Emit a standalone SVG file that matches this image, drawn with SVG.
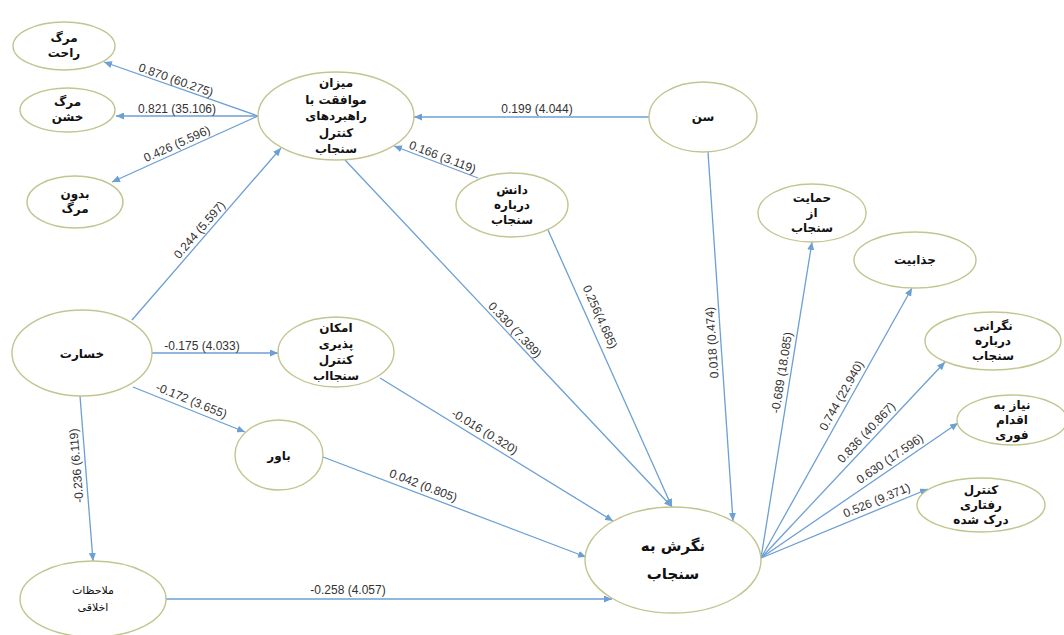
<svg xmlns="http://www.w3.org/2000/svg" width="1064" height="635" viewBox="0 0 1064 635">
<style>
.n ellipse{fill:#fff;stroke:#c3c590;stroke-width:1.4}
.n text{font-family:"DejaVu Sans","Noto Sans",sans-serif;font-weight:bold;font-size:12px;fill:#111;text-anchor:middle;dominant-baseline:central}
.e line{stroke:#6c9fd3;stroke-width:1.3;fill:none;marker-end:url(#ah)}
.l text{font-family:"Liberation Sans",Arial,sans-serif;font-size:12px;fill:#333;text-anchor:middle;dominant-baseline:central}
</style>
<defs>
<marker id="ah" markerUnits="userSpaceOnUse" markerWidth="9" markerHeight="7" refX="8" refY="3.5" orient="auto">
<path d="M0,0 L8,3.5 L0,7 z" fill="#6c9fd3"/>
</marker>
</defs>
<rect width="1064" height="635" fill="#fff"/>
<g id="connectors" class="e">
<line x1="258" y1="116" x2="104" y2="62"/>
<line x1="258" y1="116" x2="116" y2="116"/>
<line x1="258" y1="116" x2="112" y2="182"/>
<line x1="132" y1="320" x2="281" y2="148"/>
<line x1="649" y1="117" x2="414" y2="117"/>
<line x1="478" y1="178" x2="394" y2="146"/>
<line x1="345" y1="160" x2="672" y2="507"/>
<line x1="548" y1="230" x2="672" y2="507"/>
<line x1="708" y1="152" x2="733" y2="521"/>
<line x1="761" y1="558" x2="812" y2="242"/>
<line x1="761" y1="558" x2="912" y2="288"/>
<line x1="761" y1="558" x2="945" y2="362"/>
<line x1="761" y1="558" x2="958" y2="423"/>
<line x1="761" y1="558" x2="928" y2="489"/>
<line x1="152" y1="353" x2="278" y2="353"/>
<line x1="133" y1="387" x2="245" y2="432"/>
<line x1="380" y1="378" x2="613" y2="521"/>
<line x1="323" y1="457" x2="586" y2="557"/>
<line x1="166" y1="599" x2="612" y2="599"/>
<line x1="80" y1="396" x2="93" y2="561"/>
</g>
<g id="labels" class="l">
<text transform="translate(176,80) rotate(19.3)">0.870 (60.275)</text>
<text x="177" y="109">0.821 (35.106)</text>
<text transform="translate(177,144) rotate(-24.3)">0.426 (5.596)</text>
<text transform="translate(199.5,229.8) rotate(-49.1)">0.244 (5.597)</text>
<text x="537" y="109">0.199 (4.044)</text>
<text transform="translate(442.5,157) rotate(20.9)">0.166 (3.119)</text>
<text transform="translate(515,330) rotate(46.7)">0.330 (7.389)</text>
<text transform="translate(600,317) rotate(65.9)">0.256(4.685)</text>
<text transform="translate(712,342.6) rotate(-93.9)">0.018 (0.474)</text>
<text transform="translate(781.8,372.6) rotate(-80.8)">-0.689 (18.085)</text>
<text transform="translate(841.5,395.6) rotate(-60.8)">0.744 (22.940)</text>
<text transform="translate(866.4,432.5) rotate(-46.8)">0.836 (40.867)</text>
<text transform="translate(889.9,458.8) rotate(-34.4)">0.630 (17.596)</text>
<text transform="translate(876.6,500.5) rotate(-22.5)">0.526 (9.371)</text>
<text x="202" y="346">-0.175 (4.033)</text>
<text transform="translate(191.4,400.7) rotate(21.9)">-0.172 (3.655)</text>
<text transform="translate(484.7,431.7) rotate(31.5)">-0.016 (0.320)</text>
<text transform="translate(423.2,485.5) rotate(20.8)">0.042 (0.805)</text>
<text x="348" y="590">-0.258 (4.057)</text>
<text transform="translate(76.4,465.7) rotate(-94.5)">-0.236 (6.119)</text>
</g>
<g id="n1" class="n"><ellipse cx="64" cy="46" rx="51" ry="24"/><text x="64" y="38">مرگ</text><text x="64" y="53">راحت</text></g>
<g id="n2" class="n"><ellipse cx="67.5" cy="110" rx="47.5" ry="22"/><text x="67.5" y="102">مرگ</text><text x="67.5" y="117">خشن</text></g>
<g id="n3" class="n"><ellipse cx="75" cy="202" rx="48" ry="26"/><text x="75" y="194">بدون</text><text x="75" y="209">مرگ</text></g>
<g id="n4" class="n"><ellipse cx="336" cy="116" rx="78" ry="44"/><text x="336" y="83">میزان</text><text x="336" y="99.5">موافقت با</text><text x="336" y="116">راهبردهای</text><text x="336" y="132.5">کنترل</text><text x="336" y="149">سنجاب</text></g>
<g id="n5" class="n"><ellipse cx="703" cy="117" rx="54" ry="35"/><text x="703" y="117">سن</text></g>
<g id="n6" class="n"><ellipse cx="512" cy="205" rx="56" ry="32"/><text x="512" y="190">دانش</text><text x="512" y="205">درباره</text><text x="512" y="220">سنجاب</text></g>
<g id="n7" class="n"><ellipse cx="812" cy="213" rx="54" ry="29"/><text x="812" y="198">حمایت</text><text x="812" y="213">از</text><text x="812" y="228">سنجاب</text></g>
<g id="n8" class="n"><ellipse cx="915" cy="260" rx="61" ry="28"/><text x="915" y="260">جذابیت</text></g>
<g id="n9" class="n"><ellipse cx="993" cy="341" rx="68" ry="29"/><text x="993" y="326">نگرانی</text><text x="993" y="341">درباره</text><text x="993" y="356">سنجاب</text></g>
<g id="n10" class="n"><ellipse cx="1012" cy="420" rx="55" ry="25"/><text x="1012" y="405">نیاز به</text><text x="1012" y="420">اقدام</text><text x="1012" y="435">فوری</text></g>
<g id="n11" class="n"><ellipse cx="981" cy="505" rx="64" ry="27"/><text x="981" y="490">کنترل</text><text x="981" y="505">رفتاری</text><text x="981" y="520">درک شده</text></g>
<g id="n12" class="n"><ellipse cx="82" cy="353" rx="70" ry="43"/><text x="82" y="354">خسارت</text></g>
<g id="n13" class="n"><ellipse cx="336" cy="352" rx="58" ry="35"/><text x="336" y="328">امکان</text><text x="336" y="344">پذیری</text><text x="336" y="360">کنترل</text><text x="336" y="376">سنجااب</text></g>
<g id="n14" class="n"><ellipse cx="279" cy="455" rx="44" ry="35"/><text x="279" y="456">باور</text></g>
<g id="n15" class="n"><ellipse cx="93" cy="599" rx="73" ry="38"/><text x="93" y="590" style="font-weight:normal;font-size:11px">ملاحظات</text><text x="93" y="607" style="font-weight:normal;font-size:11px">اخلاقی</text></g>
<g id="n16" class="n"><ellipse cx="673" cy="560" rx="88" ry="53"/><text x="673" y="546" style="font-size:15px">نگرش به</text><text x="673" y="574" style="font-size:15px">سنجاب</text></g>
</svg>
